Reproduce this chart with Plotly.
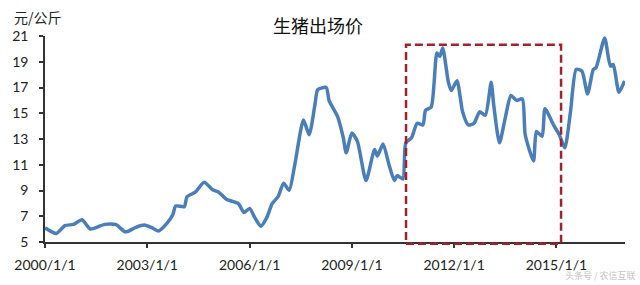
import plotly.graph_objects as go

dates = [
    "2000-01", "2000-05", "2000-08", "2000-11", "2001-02", "2001-05", "2001-10",
    "2002-02", "2002-05", "2002-06", "2002-09", "2002-12", "2003-03", "2003-05",
    "2003-08", "2003-10", "2003-11", "2004-02", "2004-03", "2004-06", "2004-09",
    "2004-12", "2005-02", "2005-05", "2005-09", "2005-11", "2006-01", "2006-03",
    "2006-05", "2006-07", "2006-09", "2006-11", "2007-01", "2007-03", "2007-05",
    "2007-08", "2007-10", "2007-12", "2008-01", "2008-04", "2008-05", "2008-08",
    "2008-10", "2008-11", "2009-01", "2009-03", "2009-06", "2009-09", "2009-10",
    "2009-12", "2010-02", "2010-04", "2010-05", "2010-07", "2010-08", "2010-10",
    "2010-12", "2011-02", "2011-03", "2011-05", "2011-07", "2011-08", "2011-09",
    "2011-11", "2011-12", "2012-02", "2012-04", "2012-06", "2012-08", "2012-10",
    "2012-12", "2013-02", "2013-03", "2013-05", "2013-07", "2013-09", "2013-11",
    "2014-01", "2014-02", "2014-05", "2014-06", "2014-08", "2014-09", "2014-12",
    "2015-02", "2015-04", "2015-06", "2015-08", "2015-10", "2015-12", "2016-02",
    "2016-03", "2016-06", "2016-08", "2016-09", "2016-11", "2017-01",
]
prices = [
    6.10, 5.66, 6.27, 6.37, 6.73, 6.01, 6.37,
    6.35, 5.81, 5.81, 6.14, 6.32, 6.07, 5.86,
    6.47, 7.11, 7.80, 7.74, 8.50, 8.89, 9.65,
    9.06, 8.89, 8.30, 8.00, 7.29, 7.61, 6.85,
    6.22, 6.85, 8.00, 8.50, 9.57, 9.01, 11.04,
    14.47, 13.33, 15.61, 16.83, 17.00, 16.00, 14.73,
    13.08, 11.93, 13.46, 12.82, 9.78, 12.19, 11.68,
    12.62, 11.04, 9.78, 10.16, 9.90, 12.70, 13.08,
    14.22, 14.09, 15.23, 15.49, 19.68, 19.42, 20.06,
    17.40, 16.76, 17.52, 15.11, 14.09, 14.22, 15.11,
    14.85, 17.40, 15.61, 12.70, 14.60, 16.38, 16.00,
    16.12, 13.33, 11.30, 13.59, 13.20, 15.36, 14.09,
    13.33, 12.31, 15.11, 18.41, 18.28, 16.50, 18.41,
    18.54, 20.85, 18.66, 18.79, 16.63, 17.52,
]
tick_dates = ["2000-01-01", "2003-01-01", "2006-01-01", "2009-01-01", "2012-01-01", "2015-01-01"]
tick_labels = ["2000/1/1", "2003/1/1", "2006/1/1", "2009/1/1", "2012/1/1", "2015/1/1"]
y_ticks = [5, 7, 9, 11, 13, 15, 17, 19, 21]
box_start = "2010-08-04"
box_end = "2015-02-20"

fig = go.Figure()
fig.add_trace(go.Scatter(
    x=dates, y=prices, mode="lines",
    line=dict(color="#4a7ebb", width=3.5, shape="spline", smoothing=0.6),
    hoverinfo="skip", showlegend=False,
))

fig.add_shape(type="rect", xref="x", yref="paper",
              x0=box_start, x1=box_end, y0=-0.008, y1=0.957,
              line=dict(color="#a3222a", width=2.5, dash="8px,4px"),
              fillcolor="rgba(0,0,0,0)", layer="above")

fig.update_layout(
    width=640, height=285,
    margin=dict(l=43, r=15, t=36, b=39),
    paper_bgcolor="white", plot_bgcolor="white",
    font=dict(family="Lato, 'Noto Sans CJK SC', sans-serif", size=14, color="#222222"),
    title=dict(text="生猪出场价", x=318/640, xanchor="center", y=1-27/285, yanchor="middle",
               font=dict(family="'Noto Sans CJK SC', sans-serif", size=18, color="#111111")),
    xaxis=dict(type="date", range=["2000-01-01", "2017-01-05"],
               tickvals=tick_dates, ticktext=tick_labels,
               showgrid=False, zeroline=False,
               showline=True, linecolor="#333333", linewidth=1.5,
               ticks="outside", ticklen=4, tickcolor="#333333", tickwidth=1.5,
               ticklabelstandoff=5),
    yaxis=dict(range=[5, 21], tickvals=y_ticks,
               showgrid=False, zeroline=False,
               showline=True, linecolor="#333333", linewidth=1.5,
               ticks="outside", ticklen=4, tickcolor="#333333", tickwidth=1.5,
               ticklabelstandoff=8),
    annotations=[
        dict(text="元/公斤", xref="paper", yref="paper", x=(10-43)/582, y=(246-17)/210,
             xanchor="left", yanchor="middle", showarrow=False,
             font=dict(family="'Noto Sans CJK SC', sans-serif", size=14, color="#222222")),
        dict(text="头条号 / 农信互联", xref="paper", yref="paper", x=(637-43)/582, y=(246-288)/210,
             xanchor="right", yanchor="bottom", showarrow=False, borderpad=0,
             font=dict(family="'Noto Sans CJK SC', sans-serif", size=9, color="#c4c4c4")),
    ],
)

fig.write_html("out.html")
